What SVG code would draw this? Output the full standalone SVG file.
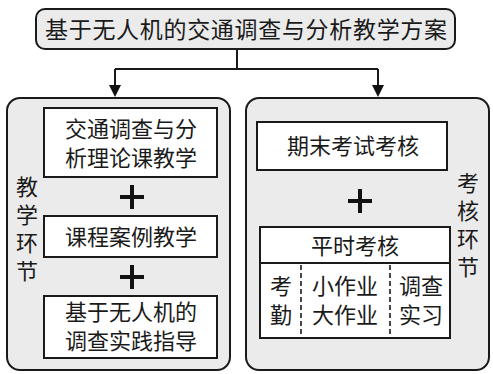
<svg xmlns="http://www.w3.org/2000/svg" width="493" height="374" viewBox="0 0 493 374">
<defs>
<style>
.t{font-family:"Noto Sans CJK SC","Noto Sans",sans-serif;fill:#1a1a1a;text-anchor:middle}
.f22{font-size:22px}
.vt{font-family:"Noto Sans CJK SC","Noto Sans",sans-serif;fill:#1a1a1a;font-size:22px;writing-mode:vertical-rl;letter-spacing:6px}
.panel{fill:#ebebeb;stroke:#1a1a1a;stroke-width:2}
.box{fill:#fff;stroke:#1a1a1a;stroke-width:2}
.plus{stroke:#111;stroke-width:4;fill:none}
.ln{stroke:#1a1a1a;stroke-width:2;fill:none}
.dash{stroke:#1a1a1a;stroke-width:1.6;stroke-dasharray:5,3;fill:none}
</style>
</defs>
<rect width="493" height="374" fill="#fff"/>
<g id="title">
<rect x="36" y="9" width="419" height="40" rx="9" fill="#ebebeb" stroke="#1a1a1a" stroke-width="2"/>
<text class="t" x="246" y="38" font-size="23" textLength="402" lengthAdjust="spacing">基于无人机的交通调查与分析教学方案</text>
</g>
<g id="connectors">
<path class="ln" d="M237,49 V69 M115,69 H378"/>
<path d="M115,69 V86" class="ln"/>
<path d="M378,69 V86" class="ln"/>
<path d="M109,85 L121,85 L115,97 z" fill="#111"/>
<path d="M372,85 L384,85 L378,97 z" fill="#111"/>
</g>
<g id="teaching">
<rect class="panel" x="7" y="98" width="223" height="272" rx="13"/>
<text class="vt" x="27" y="176">教学环节</text>
</g>
<g id="theory">
<rect class="box" x="44" y="108" width="173" height="69"/>
<text class="t f22" x="131" y="137">交通调查与分<tspan x="131" dy="29">析理论课教学</tspan></text>
</g>
<path class="plus" d="M120,197 H144 M132,185 V209"/>
<g id="case">
<rect class="box" x="44" y="216" width="173" height="41"/>
<text class="t f22" x="131" y="245">课程案例教学</text>
</g>
<path class="plus" d="M120,277 H144 M132,265 V289"/>
<g id="practice">
<rect class="box" x="44" y="296" width="173" height="62"/>
<text class="t f22" x="131" y="320">基于无人机的<tspan x="131" dy="29">调查实践指导</tspan></text>
</g>
<g id="assessment">
<rect class="panel" x="246" y="98" width="243" height="272" rx="13"/>
<text class="vt" x="468" y="172">考核环节</text>
</g>
<g id="final">
<rect class="box" x="257" y="122" width="190" height="48"/>
<text class="t f22" x="353" y="154">期末考试考核</text>
</g>
<path class="plus" d="M348,201 H372 M360,189 V213"/>
<g id="regular">
<rect class="box" x="260" y="227" width="190" height="111"/>
<path class="ln" d="M260,263 H450"/>
<text class="t f22" x="355" y="254">平时考核</text>
<path class="dash" d="M301,265 V338 M390,265 V338"/>
<text class="t f22" x="281" y="294">考<tspan x="281" dy="29">勤</tspan></text>
<text class="t f22" x="345" y="294">小作业<tspan x="345" dy="29">大作业</tspan></text>
<text class="t f22" x="421" y="294">调查<tspan x="421" dy="29">实习</tspan></text>
</g>
</svg>
